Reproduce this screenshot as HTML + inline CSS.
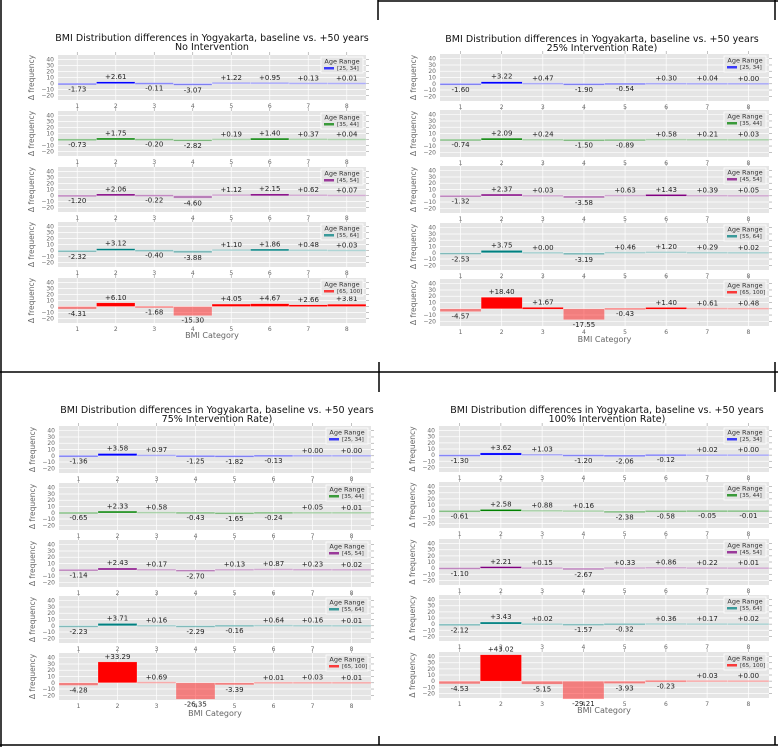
<!DOCTYPE html>
<html><head><meta charset="utf-8"><style>
html,body{margin:0;padding:0;background:#fff;}
svg{display:block;font-family:"DejaVu Sans","Liberation Sans",sans-serif;}
</style></head><body>
<svg id="c" width="778" height="747" viewBox="0 0 778 747"></svg>
<script>
const categories = [1,2,3,4,5,6,7,8];
const ageRanges = ["[25, 34]","[35, 44]","[45, 54]","[55, 64]","[65, 100]"];
const colors = ["#0000ff","#008000","#800080","#008080","#ff0000"];
const yTicks = [40,30,20,10,0,-10,-20];
const panelSubtitles = ["No Intervention","25% Intervention Rate)","75% Intervention Rate)","100% Intervention Rate)"];
const noIntervention = [
 [-1.73,2.61,-0.11,-3.07,1.22,0.95,0.13,0.01],
 [-0.73,1.75,-0.20,-2.82,0.19,1.40,0.37,0.04],
 [-1.20,2.06,-0.22,-4.60,1.12,2.15,0.62,0.07],
 [-2.32,3.12,-0.40,-3.88,1.10,1.86,0.48,0.03],
 [-4.31,6.10,-1.68,-15.30,4.05,4.67,2.66,3.81]];
const rate25 = [
 [-1.60,3.22,0.47,-1.90,-0.54,0.30,0.04,0.00],
 [-0.74,2.09,0.24,-1.50,-0.89,0.58,0.21,0.03],
 [-1.32,2.37,0.03,-3.58,0.63,1.43,0.39,0.05],
 [-2.53,3.75,0.00,-3.19,0.46,1.20,0.29,0.02],
 [-4.57,18.40,1.67,-17.55,-0.43,1.40,0.61,0.48]];
const rate75 = [
 [-1.36,3.58,0.97,-1.25,-1.82,-0.13,0.00,0.00],
 [-0.65,2.33,0.58,-0.43,-1.65,-0.24,0.05,0.01],
 [-1.14,2.43,0.17,-2.70,0.13,0.87,0.23,0.02],
 [-2.23,3.71,0.16,-2.29,-0.16,0.64,0.16,0.01],
 [-4.28,33.29,0.69,-26.35,-3.39,0.01,0.03,0.01]];
const rate100 = [
 [-1.30,3.62,1.03,-1.20,-2.06,-0.12,0.02,0.00],
 [-0.61,2.58,0.88,0.16,-2.38,-0.58,-0.05,-0.01],
 [-1.10,2.21,0.15,-2.67,0.33,0.86,0.22,0.01],
 [-2.12,3.43,0.02,-1.57,-0.32,0.36,0.17,0.02],
 [-4.53,43.02,-5.15,-29.21,-3.93,-0.23,0.03,0.00]];

const NS="http://www.w3.org/2000/svg";
const svg=document.getElementById('c');
function mk(tag,attrs,parent,text){const e=document.createElementNS(NS,tag);for(const k in attrs)e.setAttribute(k,attrs[k]);if(text!==undefined)e.textContent=text;(parent||svg).appendChild(e);return e;}

// frame lines
const frames=[[1,0,1,747],[378,1,778,1],[378,0,378,20],[775,0,775,20],[0,372,778,372],[379,362,379,392],[775,362,775,392],[0,745,778,745],[379,736,379,745],[775,736,775,745]];
frames.forEach(f=>{const l=mk('line',{x1:f[0],y1:f[1],x2:f[2],y2:f[3],stroke:'#000','stroke-width':1.5});

});

const panels=[
 {data:noIntervention,x0:58,x1:366,tops:[55,111,167,222,278],h:45,tx:212,ty:41,xl:338},
 {data:rate25,x0:440,x1:769,tops:[54,110,166,223,279],h:47,tx:602,ty:42,xl:342},
 {data:rate75,x0:59,x1:371,tops:[426,483,540,596,653],h:47,tx:217,ty:413,xl:716},
 {data:rate100,x0:439,x1:769,tops:[426,482,539,595,652],h:46,tx:607,ty:413,xl:713}];
const YMIN=-27.5,YMAX=47.5;

panels.forEach((p,pi)=>{
 const g=mk('g',{});
 
 
 const t=mk('text',{x:p.tx,y:p.ty,'font-size':9.5,'text-anchor':'middle',fill:'#111'},g);
 
 
 mk('tspan',{x:p.tx,dy:0},t,'BMI Distribution differences in Yogyakarta, baseline vs. +50 years');
 mk('tspan',{x:p.tx,dy:9},t,panelSubtitles[pi]);
 const xs=v=>p.x0+(v-0.5)/8*(p.x1-p.x0);
 const step=(p.x1-p.x0)/8;
 p.data.forEach((series,si)=>{
  const top=p.tops[si],h=p.h;
  const ys=v=>top+(YMAX-v)/(YMAX-YMIN)*h;
  const sg=mk('g',{},g);
  
  
  const bg=mk('rect',{x:p.x0,y:top,width:p.x1-p.x0,height:h,fill:'#e5e5e5'},sg);
  
  
  yTicks.forEach(v=>{
   mk('line',{x1:p.x0,x2:p.x1,y1:ys(v),y2:ys(v),stroke:'#fff','stroke-width':0.7},sg);
   mk('line',{x1:p.x1,x2:p.x1+3,y1:ys(v),y2:ys(v),stroke:'#999','stroke-width':0.6},sg);
   const yl=mk('text',{x:p.x0-4,y:ys(v)+2,'font-size':6,'text-anchor':'end',fill:'#666'},sg,v<0?'\u2212'+Math.abs(v):String(v));
   
   
  });
  categories.forEach(c=>{
   mk('line',{x1:xs(c),x2:xs(c),y1:top,y2:top+h,stroke:'#fff','stroke-width':0.7},sg);
   mk('line',{x1:xs(c),x2:xs(c),y1:top-3,y2:top,stroke:'#999','stroke-width':0.6},sg);
   const xl=mk('text',{x:xs(c),y:top+h+8,'font-size':6,'text-anchor':'middle',fill:'#666'},sg,String(c));
   
   
  });
  const yt=mk('text',{transform:`translate(${p.x0-24},${top+h/2}) rotate(-90)`,'font-size':7.5,'text-anchor':'middle',fill:'#666'},sg,'\u0394 frequency');
  
  
  series.forEach((v,i)=>{
   const c=categories[i];
   let y0=ys(Math.max(v,0)),y1=ys(Math.min(v,0));
   if(y1-y0<1.8){const m=(y0+y1)/2;y0=m-0.9;y1=m+0.9;}
   const op=v>=1.3?1:(v>=0?0.3:0.45);
   const b=mk('rect',{x:xs(c)-step/2,y:y0,width:step,height:y1-y0,fill:colors[si],'fill-opacity':op,stroke:'#fff','stroke-width':0.4,'stroke-opacity':0.6},sg);
   
   
   const ly=v>=0?ys(v)-3:ys(v)+7;
   const lt=mk('text',{x:xs(c),y:ly,'font-size':7,'text-anchor':'middle',fill:'#222'},sg,(v>=0?'+':'')+v.toFixed(2));
   
   
  });
  // legend
  const lg=mk('g',{},sg);
  
  
  const lx=p.x1-45;
  mk('rect',{x:lx,y:top+2,width:42,height:16,fill:'#e5e5e5',stroke:'#fff','stroke-width':0.8},lg);
  mk('text',{x:lx+21,y:top+8.5,'font-size':6.5,'text-anchor':'middle',fill:'#333'},lg,'Age Range');
  mk('rect',{x:lx+3,y:top+12,width:10,height:2.5,fill:colors[si],'fill-opacity':0.75},lg);
  const le=mk('text',{x:lx+16,y:top+15,'font-size':5.5,fill:'#333'},lg,ageRanges[si]);
  
  
 });
 const xt=mk('text',{x:(p.x0+p.x1)/2,y:p.xl,'font-size':8,'text-anchor':'middle',fill:'#666'},g,'BMI Category');
 
 
});
</script>
</body></html>
